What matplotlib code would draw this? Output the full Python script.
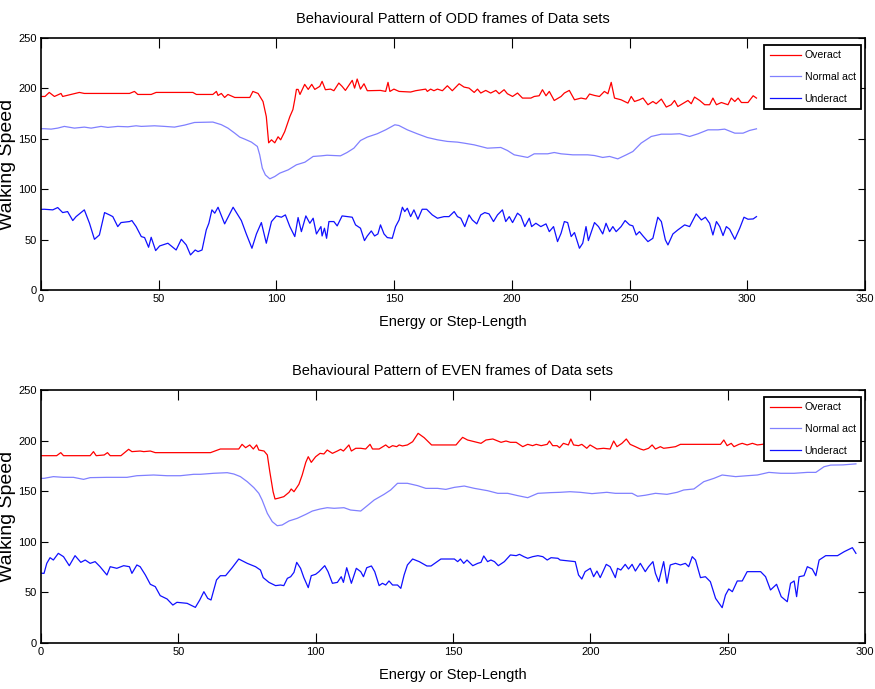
import matplotlib
matplotlib.use("Agg")
import matplotlib.pyplot as plt

# ---------------- data ----------------
odd_over_x = [0, 1.7, 3.5, 5.7, 8.5, 9.2, 12.8, 16.3, 18.4, 37.6, 39.7, 41.1, 46.8, 48.9, 64.5, 66, 73, 74.5, 75.2,
              76.6, 78, 79.4, 82.3, 88.7, 90, 92.2, 94.3, 95.7, 96.7, 97.9, 99.3, 100.7, 101.8, 103.5, 105.7, 107,
              107.8, 108.5, 109.2, 110, 112, 113.5, 115, 116.3, 118.4, 119.4, 120.8, 123, 124.4, 126.5, 127.9,
              129.3, 132.2, 133.2, 134.3, 135.7, 137.2, 138.6, 144.2, 146.4, 147.4, 148.2, 149.9, 152.1, 157,
              159.1, 163.4, 164.1, 165.5, 166.9, 168.4, 170.5, 172.6, 174.7, 177.6, 179.7, 181.8, 184, 185.4,
              186.8, 188.9, 191, 193.2, 194.6, 196.7, 198.1, 200.3, 202.4, 204.5, 208.1, 209.5, 211.6, 213,
              214.5, 215.9, 218, 220.9, 222.3, 224.4, 226.6, 229.4, 231.5, 233, 235.1, 237.2, 239.3, 240.8,
              242.2, 243.6, 246.4, 249.3, 250.7, 252.1, 254.2, 255.7, 257.8, 259.9, 261.3, 263.5, 265.6, 267.7,
              269.1, 270.5, 273.4, 274.8, 276.2, 277.6, 279.8, 281.9, 284, 285.4, 286.9, 289, 291.8, 293.2,
              294.7, 296.1, 297.5, 300.3, 302.5, 303.9]
odd_over_y = [192, 192, 196, 192, 195, 192, 194, 196, 195, 195, 197, 194, 194, 196, 196, 194, 194, 197, 193,
              195, 191, 194, 191, 191, 197, 195, 187, 172, 146, 149, 146, 152, 149, 157, 172, 179,
              189, 199, 199, 194, 204, 199, 204, 199, 202, 207, 198.7, 199.3, 197.7, 205.3, 202,
              198, 208, 200.3, 209.3, 199.3, 204.6, 197.7, 198, 197, 206, 197, 199.3, 197, 196.4,
              197.7, 199.3, 197, 199.3, 197.7, 199.3, 197.7, 202.6, 197.7, 204.6, 201.3, 200.3, 196, 199.3,
              195.4, 198, 195.4, 198, 194.7, 198.7, 194.7, 192, 195.4, 190.4, 190.4, 192, 192.7, 198.7,
              192.7, 197, 188, 192, 195.4, 198, 188.7, 190.4, 189.4, 194.4, 193, 192, 197, 194.7,
              206, 190.4, 188.7, 185.4, 192, 187, 188.7, 190.4, 183.8, 187, 184.8, 189.4, 181.5, 183.8,
              188, 182, 186, 188, 184.8, 191.4, 188, 183.8, 183.8, 190.4, 183.8, 186, 183.8, 190.4,
              187, 190.4, 186, 186, 192.7, 190.4]

odd_norm_x = [0, 1.4, 4.3, 7.1, 9.9, 14.2, 18.4, 21.3, 25.5, 28.4, 32.6, 36.9, 40.4, 42.6, 48.2, 52.5, 56.7, 61,
              65.2, 73, 76.6, 79.4, 82.3, 84.4, 86.5, 89.4, 91.9, 92.9, 94, 95.3, 97.2, 99.3, 101.4, 105, 108.5,
              112.1, 115.6, 119.1, 121.5, 127.2, 130, 132.9, 135.7, 138.6, 142.8, 146.4, 150.3, 152, 155.6,
              159.8, 164.1, 168.4, 172.6, 176.9, 179.7, 184, 189.6, 195.3, 198.1, 201, 206.7, 209.5, 215.2, 218,
              220.9, 225.9, 232.2, 235.1, 238.6, 241.5, 245, 248.6, 251.4, 254.9, 259.2, 263.5, 267.7, 271.3,
              275.5, 279.1, 283.3, 287.6, 290.4, 294.7, 298.2, 301, 303.9]
odd_norm_y = [160, 160, 159.6, 160.6, 162.3, 160.6, 161.6, 160.6, 162.3, 161.3, 162.3, 161.9, 162.9, 162.3, 162.9,
              162.3, 161.6, 163.6, 166.2, 166.6, 164, 160.6, 155.6, 151.7, 149.7, 146.7, 142.4, 134.1, 120.9,
              114.2, 110.3, 112.6, 115.9, 119.2, 124.2, 126.8, 132.5, 133.1, 133.7, 133.1, 136.4, 140.7, 148.3,
              151.7, 155, 158.9, 163.9, 163.2, 158.9, 155, 151.3, 149, 147.4, 146.7, 145.7, 144, 140.7, 141.4,
              138.4, 134.1, 131.5, 135.1, 135.1, 136.4, 135.1, 134.1, 134.1, 133.4, 131.5, 132.5, 130.1, 134.1,
              137.4, 145.7, 152.3, 154.6, 154.6, 155, 152.3, 155, 158.9, 158.9, 159.6, 155.6, 155.6, 158.3, 159.9]

odd_under_x = [0, 1.4, 5, 7.1, 9.2, 11.3, 13.5, 14.9, 18.4, 20.6, 22.7, 24.8, 27, 29.1, 30.5, 32.6, 34, 37.6, 38.6,
               40.4, 42.6, 44, 45.7, 46.8, 48.7, 50.4, 53.9, 57.4, 59.6, 61.7, 63.5, 65.5, 66.7, 68.4, 70.2, 71.3,
               72.6, 73.8, 75.2, 78, 81.6, 85.1, 87.2, 89.6, 91.5, 93.6, 95.7, 97.9, 100, 102.1, 103.8, 105.7,
               107.8, 109.2, 110.6, 112.5, 114.2, 115.6, 117, 118.9, 119.4, 120.4, 121.3, 122.3, 124.4, 125.8,
               127.9, 130.1, 132.2, 133.6, 135.7, 137.4, 138.6, 140.3, 141.7, 143.1, 144.2, 145.7, 147.1, 149.2,
               150.6, 152.1, 153.5, 154.5, 155.6, 157, 158.4, 160.1, 161.9, 163.8, 166.2, 168.4, 171.2, 173.3,
               175.5, 176.9, 178.3, 180, 181.8, 183.2, 185.1, 186.8, 188.5, 190.3, 192.2, 193.9, 196, 197.4,
               198.9, 200.3, 202.4, 203.8, 205.5, 207.4, 208.4, 210.2, 212.3, 214.5, 215.9, 217.7, 219.4,
               220.9, 222.3, 223.7, 225.2, 226.6, 228.7, 230.1, 231.5, 232.5, 235.1, 236.8, 238.6, 240, 241.5,
               242.9, 244.3, 246.4, 248.1, 250, 251.4, 252.8, 254.2, 255.7, 257.8, 259.9, 262, 263.5, 265.2,
               266.3, 268.4, 270.5, 273.4, 275.5, 278.3, 280.5, 282.2, 284, 285.4, 286.9, 288.3, 289.7, 291.1,
               292.5, 294.7, 296.8, 298.6, 300.3, 302.5, 303.9]
odd_under_y = [80, 80.1, 79.5, 81.8, 76.8, 77.8, 68.9, 72.8, 79.5, 66.2, 50.3, 54.6, 76.8, 74.5, 72.8, 62.9, 66.9,
               67.9, 68.9, 62.9, 53, 52, 42.4, 52.3, 39.1, 43.7, 46.4, 39.7, 50.3, 44.7, 34.8, 39.7, 38.1, 39.7,
               59.6, 66.2, 79.5, 76.2, 82.1, 65.6, 82.1, 68.9, 55.6, 41.4, 55.6, 66.9, 46.4, 67.9, 73.5, 72.2,
               74.5, 62.9, 53, 71.9, 57.9, 73.5, 66.2, 71.2, 55.6, 62.9, 53.6, 61.3, 51.3, 67.9, 67.9, 63.6,
               73.5, 72.8, 72.2, 64.6, 61.3, 49, 53.6, 58.6, 53.6, 55.6, 64.6, 55.6, 52, 51.3, 62.9, 69.5,
               82.1, 77.8, 81.1, 72.8, 79.5, 70.2, 80.1, 80.1, 74.5, 71.2, 72.8, 72.8, 77.8, 72.8, 71.2, 62.9,
               74.5, 69.5, 65.6, 74.5, 76.8, 75.5, 67.9, 74.5, 79.5, 67.9, 72.8, 66.9, 76.2, 73.5, 62.9, 71.2,
               62.9, 66.2, 62.9, 65.6, 57.9, 62.9, 48, 56.3, 67.9, 66.9, 53, 57, 41.4, 46.4, 62.9, 49, 66.9,
               62.9, 55.6, 66.2, 57.9, 62.9, 57.9, 62.9, 68.9, 64.6, 63.6, 54.6, 57.9, 53.6, 48, 51.3, 72.2,
               67.9, 49.7, 44.7, 55.6, 59.6, 64.6, 62.9, 75.5, 69.5, 72.2, 66.2, 54.6, 67.9, 62.9, 54, 62.9,
               60.3, 50.3, 61.3, 72.2, 70.2, 70.5, 72.8]

even_over_x = [0, 1.1, 5.7, 7.2, 8.2, 17.9, 19.1, 20.1, 23, 24.2, 25.2, 29.1, 31.9, 33.1, 36.1, 37.4, 39.8, 41.6,
               61.7, 65.3, 72, 73.2, 74.5, 76, 77.3, 78.5, 79.3, 81.2, 82.4, 83.3, 84.5, 85.2, 86.3, 88.4, 90.3,
               91.1, 92.1, 93.9, 95.1, 96.4, 97.3, 98.4, 100, 101.6, 103, 104.2, 106.1, 107.9, 109.1, 110.1, 112.1,
               113, 114.6, 116.4, 118.2, 119.8, 120.7, 123.1, 125.5, 126.7, 128, 129.5, 130.4, 131.6, 133.4,
               135.3, 137.3, 139.5, 142.2, 151.1, 152.3, 153.5, 155.3, 160.2, 162, 164.5, 167.5, 169.3, 170.9,
               173, 175.4, 177.2, 179, 180.3, 182.1, 184.3, 185.1, 186.3, 187.9, 188.8, 190.2, 192, 192.9,
               193.9, 195.7, 196.9, 198.7, 199.9, 202.4, 204.8, 207.2, 208.5, 209.7, 211.5, 213.1, 214.5, 216.4,
               218.2, 219.4, 221.2, 222.5, 223.7, 225.5, 226.7, 228.5, 231, 232.8, 247.4, 248.6, 249.8, 251.3,
               252.3, 254.1, 255.3, 257.1, 259, 260.8, 262.6, 264.4, 270, 280, 290, 296.7]
even_over_y = [185.1, 185.1, 185.1, 188.1, 185.1, 185.1, 189.1, 185.1, 185.8, 188.1, 185.1, 185.1, 191.4, 189.1,
               189.7, 189.1, 189.7, 188.1, 188.1, 191.7, 191.7, 196.3, 193, 195.7, 191.7, 195.7, 190.7, 189.7,
               185.8, 169.3, 149.5, 142.3, 143, 144.6, 148.9, 152.2, 149.5, 156.8, 166, 178.5, 184.1, 178.5,
               184.1, 187.4, 186.8, 190.7, 187.4, 189.7, 191.4, 189.7, 195.7, 189.7, 192.4, 192.4, 191.7, 196.3,
               191.7, 191.7, 195.7, 193, 195, 194, 195.7, 194.7, 195.7, 198.9, 207.2, 202.9, 195.7, 195.7,
               199.6, 203.2, 200.6, 197.3, 200.6, 201.6, 198.3, 199.6, 198.3, 198.3, 194, 196.3, 195, 196.3,
               195, 196.3, 199.6, 195, 195, 193, 197.3, 195.7, 201.6, 195.7, 195, 196.3, 192.4, 195.7,
               191.7, 192.4, 191.7, 199.6, 194, 197.3, 201.6, 196.3, 194, 191.7, 190.7, 192.4, 195.7, 191.7,
               194, 192.4, 193, 194, 196.3, 196.3, 200.6, 195, 197.3, 194, 196.3, 197.3, 195.7, 197.3, 195.7,
               196.3, 197.3, 197, 197, 197, 197]

even_norm_x = [0, 1.1, 4.5, 8.2, 11.8, 15.5, 17.9, 24, 31.3, 34.9, 41, 45.9, 50.7, 53.2, 55.6, 58, 62.9, 67.8,
               70.2, 72.6, 75.1, 77.5, 79.3, 80.5, 82.4, 84.2, 86, 87.8, 90.3, 93.3, 96.4, 98.8, 101.6, 104.2,
               106.7, 110.3, 112.7, 116.4, 118.8, 121.3, 124.9, 127.3, 129.8, 133.4, 137.1, 140.1, 144.4, 147.4,
               150.5, 154.1, 157.8, 162.6, 166.3, 169.9, 173.6, 177.2, 180.9, 185.7, 189, 192.6, 196.3, 200.6,
               206, 209.1, 215.2, 217.2, 220, 223.7, 227.9, 231.6, 234, 237.7, 241.3, 245, 248, 252.9, 257.1,
               260.8, 265, 269.3, 274.2, 279, 282.1, 285.1, 287.5, 292, 296.7]
even_norm_y = [162.7, 162.7, 164.4, 163.7, 163.7, 161.7, 163.4, 163.7, 163.7, 165.3, 166, 165.3, 165.3, 166, 166.7,
               166.7, 167.7, 168.3, 167, 164.4, 159.4, 153.5, 147.9, 141.3, 128.1, 119.9, 115.9, 116.6, 120.6,
               123.2, 127.1, 130.4, 132.4, 133.7, 133.1, 133.7, 131.4, 130.4, 135.7, 141.3, 146.9, 151.2, 157.8,
               157.8, 155.5, 152.8, 152.8, 151.8, 153.8, 155.1, 152.8, 150.5, 147.9, 147.9, 145.6, 143.6, 147.9,
               148.6, 148.9, 149.5, 148.9, 147.6, 148.9, 147.9, 147.9, 145, 146, 147.9, 146.9, 148.9, 151.2,
               152.2, 159.4, 162.7, 166, 164.4, 165.3, 166, 168.6, 167.7, 167.7, 168.6, 168.6, 174.2, 175.8,
               176, 177]

even_under_x = [0, 1.1, 2.1, 3.3, 4.5, 6.3, 8.2, 10.3, 12.4, 14.5, 16.1, 17.9, 19.7, 21.5, 24, 25.2, 27.6, 30.1,
                32.2, 33.1, 34.9, 36.1, 38, 39.8, 41.6, 43.4, 45.9, 48, 49.5, 53.2, 56.2, 57.8, 59.3, 60.7, 61.9,
                63.9, 65.3, 67.2, 69.6, 72, 75.1, 78.1, 79.9, 80.9, 83, 85.4, 87.2, 88.4, 89.7, 90.9, 92.1, 93.1,
                94.5, 95.7, 97.3, 98.4, 100, 101.2, 103.3, 104.5, 106.1, 107.9, 109.3, 110.1, 111.3, 113, 114.8,
                116.4, 117.4, 118.6, 120.3, 121.5, 123.1, 124.3, 125.5, 126.7, 128, 129.8, 131, 132.2, 133.4,
                135.3, 137.7, 140.5, 142, 145.6, 150.5, 151.7, 152.7, 153.9, 155.1, 157.2, 159, 160.2, 161.2,
                162.6, 163.8, 165.1, 166.5, 168.7, 170.9, 173, 174.2, 175.8, 177.2, 179, 180.9, 182.7, 184.3,
                185.7, 188.2, 189, 192.6, 194.5, 195.7, 196.9, 198.1, 200, 201.2, 202.4, 203.6, 205.8, 207.2,
                209.1, 209.9, 211.1, 212.7, 213.9, 215.2, 216.4, 218.2, 220, 221.2, 222.8, 223.7, 224.9, 226.7,
                227.9, 229.1, 231, 232.8, 234.6, 235.8, 237.1, 238.3, 240.1, 241.9, 243.7, 245.6, 248, 249.2,
                250.4, 251.7, 253.5, 255.3, 257.1, 262, 263.8, 265.6, 267.8, 269.5, 271.7, 272.9, 274.2, 275.1,
                276, 277.8, 279, 280.8, 282.1, 283.3, 285.7, 290, 292.4, 295.4, 296.7]
even_under_y = [69, 68.8, 78.7, 84.3, 82, 88.6, 85.3, 76.4, 86.3, 79.7, 82, 78.7, 80.4, 75.4, 67.2, 75.4, 73.8,
                76.4, 75.4, 68.8, 77.1, 75.4, 67.2, 58, 55.7, 46.8, 43.5, 37.5, 40.2, 39.2, 35.2, 42.5, 50.7,
                44.1, 42.5, 62.3, 66.5, 66.5, 74.4, 83, 78.7, 75.4, 72.1, 64.6, 59.9, 56.7, 57.3, 56.7, 63.9,
                65.5, 69.8, 79.7, 73.8, 64.6, 54.7, 66.5, 67.9, 70.5, 76.4, 70.5, 59, 59.9, 65.5, 59.9, 74.4,
                59, 73.8, 70.5, 65.5, 74.4, 76.1, 70.5, 56.7, 59, 57.3, 61.3, 57.3, 57.3, 54, 67.2, 77.1, 83,
                80.4, 76.1, 76.1, 83, 83, 80.4, 83, 78.7, 82, 76.4, 78.7, 79.7, 86, 80.4, 82, 80.4, 76.4,
                80.4, 87, 86.3, 87.6, 85.3, 83.7, 85.3, 86.3, 85.3, 82, 84.3, 83.7, 82, 81, 80.4, 67.2, 63.2,
                70.5, 73.8, 65.5, 71.1, 64.6, 77.7, 75.4, 64.6, 73.8, 72.1, 77.7, 73.1, 77.7, 71.1, 78.7, 70.5,
                75.4, 80.4, 68.8, 60.6, 80.4, 59, 77.1, 78.7, 77.1, 78.7, 75.4, 85.3, 82, 64.6, 65.5, 60.6,
                44.1, 34.9, 47.4, 53.4, 50.7, 61.3, 61.3, 70.5, 70.5, 65.5, 52.4, 58, 45.8, 40.8, 59, 61.3,
                45.8, 65.5, 66.5, 75.4, 73.1, 66.5, 82, 86.3, 86.3, 90.2, 94.2, 88.6]

series_labels = ["Overact", "Normal act", "Underact"]
series_colors = ["#ff0000", "#8080ff", "#1010ff"]
titles = ["Behavioural Pattern of ODD frames of Data sets",
          "Behavioural Pattern of EVEN frames of Data sets"]
xlabel = "Energy or Step-Length"
ylabel = "Walking Speed"
odd_xticks = [0, 50, 100, 150, 200, 250, 300, 350]
even_xticks = [0, 50, 100, 150, 200, 250, 300]
yticks = [0, 50, 100, 150, 200, 250]

# ---------------- figure ----------------
plt.rcParams["font.family"] = ["Liberation Sans", "DejaVu Sans"]

fig = plt.figure(figsize=(8.75, 6.89), dpi=100)
ax1 = fig.add_axes([41 / 875, 1 - 290 / 689, 824 / 875, 252 / 689])
ax2 = fig.add_axes([41 / 875, 1 - 643 / 689, 824 / 875, 253 / 689])

panels = [
    (ax1, [(odd_over_x, odd_over_y), (odd_norm_x, odd_norm_y), (odd_under_x, odd_under_y)], odd_xticks, titles[0]),
    (ax2, [(even_over_x, even_over_y), (even_norm_x, even_norm_y), (even_under_x, even_under_y)], even_xticks, titles[1]),
]

for ax, data, xt, title in panels:
    for (xs, ys), lab, col in zip(data, series_labels, series_colors):
        ax.plot(xs, ys, color=col, lw=0.9, label=lab)
    ax.set_xlim(xt[0], xt[-1])
    ax.set_ylim(0, 250)
    ax.set_xticks(xt)
    ax.set_yticks(yticks)
    ax.tick_params(direction="in", top=True, right=True, labelsize=8, pad=3, width=0.8)
    ax.tick_params(axis="x", length=7)
    ax.tick_params(axis="y", length=5)
    for s in ax.spines.values():
        s.set_linewidth(1.2)
    ax.set_title(title, fontsize=10.5, pad=11)
    ax.set_xlabel(xlabel, fontsize=10.5, labelpad=8)
    ax.set_ylabel(ylabel, fontsize=14, labelpad=2)
    leg = ax.legend(loc="upper right", bbox_to_anchor=(0.995, 0.972), borderaxespad=0,
                    fancybox=False, framealpha=1, edgecolor="black", fontsize=7.6,
                    handlelength=3.0, handletextpad=0.3, labelspacing=1.1, borderpad=0.5)
    leg.get_frame().set_linewidth(1.3)

fig.savefig("out.png", dpi=100)
